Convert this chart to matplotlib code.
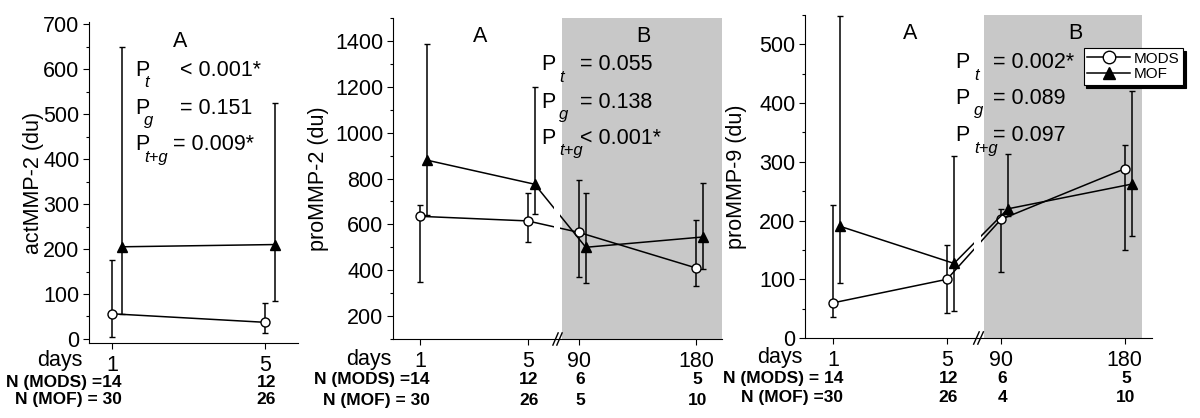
import numpy as np
import matplotlib
matplotlib.use("Agg")
import matplotlib.pyplot as plt
from matplotlib.transforms import offset_copy
from matplotlib.patches import Rectangle
from matplotlib.lines import Line2D
from matplotlib.ticker import MultipleLocator

plt.rcParams["font.family"] = ["Liberation Sans", "DejaVu Sans"]

# === data ===
days_short = [1, 5]
days_long = [1, 5, 90, 180]

# actMMP-2
act2_mods = [56, 37]
act2_mods_lo = [5, 13]
act2_mods_hi = [175, 79]
act2_mof = [205, 210]
act2_mof_lo = [56, 84]
act2_mof_hi = [650, 525]
act2_n_mods = [14, 12]
act2_n_mof = [30, 26]
act2_p = ["< 0.001*", "= 0.151", "= 0.009*"]

# proMMP-2
pro2_mods = [635, 615, 565, 410]
pro2_mods_lo = [350, 525, 370, 330]
pro2_mods_hi = [685, 735, 795, 620]
pro2_mof = [880, 775, 500, 545]
pro2_mof_lo = [640, 645, 345, 405]
pro2_mof_hi = [1385, 1200, 735, 780]
pro2_n_mods = [14, 12, 6, 5]
pro2_n_mof = [30, 26, 5, 10]
pro2_p = ["= 0.055", "= 0.138", "< 0.001*"]

# proMMP-9
pro9_mods = [60, 100, 202, 288]
pro9_mods_lo = [35, 42, 113, 150]
pro9_mods_hi = [226, 158, 220, 328]
pro9_mof = [190, 127, 220, 262]
pro9_mof_lo = [93, 46, 208, 173]
pro9_mof_hi = [548, 310, 314, 420]
pro9_n_mods = [14, 12, 6, 5]
pro9_n_mof = [30, 26, 4, 10]
pro9_p = ["= 0.002*", "= 0.089", "= 0.097"]

GREY = "#c8c8c8"
FS = 15.5

# broken day axis: 1..5 linear, then jump to 90..180 compressed
K = 4.35 / 90


def fwd(d):
    d = np.asarray(d, dtype=float)
    return np.where(d <= 5, d,
                    np.where(d >= 90, 6.9 + (d - 90) * K, 5 + (d - 5) * 1.9 / 85))


def inv(t):
    t = np.asarray(t, dtype=float)
    return np.where(t <= 5, t,
                    np.where(t >= 6.9, 90 + (t - 6.9) / K, 5 + (t - 5) * 85 / 1.9))


fig = plt.figure(figsize=(12, 4.18), dpi=100)
ax1 = fig.add_axes([89 / 1200, 75 / 418, 209 / 1200, 321 / 418])
ax2 = fig.add_axes([393 / 1200, 79 / 418, 329 / 1200, 321 / 418])
ax3 = fig.add_axes([805 / 1200, 80 / 418, 347 / 1200, 323 / 418])


def series(ax, days, mean, lo, hi, marker, face, dx):
    trans = offset_copy(ax.transData, fig=fig, x=dx, y=0, units="dots")
    mean = np.array(mean)
    yerr = [mean - np.array(lo), np.array(hi) - mean]
    ax.errorbar(days, mean, yerr=yerr, fmt="-", color="k", marker=marker,
                mfc=face, mec="k", ms=6.5, mew=1, lw=1.1, elinewidth=1.1,
                capsize=2.5, capthick=1.1, transform=trans, clip_on=False)


def style(ax, ylim, major, minor, ylabel, pad):
    ax.spines["top"].set_visible(False)
    ax.spines["right"].set_visible(False)
    ax.set_ylim(*ylim)
    ax.yaxis.set_major_locator(MultipleLocator(major))
    ax.yaxis.set_minor_locator(MultipleLocator(minor))
    ax.tick_params(axis="both", which="major", labelsize=FS, length=4, width=0.8,
                   direction="out", pad=3)
    ax.tick_params(axis="x", which="major", pad=4.5)
    ax.tick_params(axis="y", which="minor", length=2, width=0.8)
    ax.set_ylabel(ylabel, fontsize=FS, labelpad=pad)
    ax.patch.set_alpha(0)


def pvals(ax, xp, xsub, xvals, ys, vals):
    for y, s, v, xv in zip(ys, ["t", "g", "t+g"], vals, xvals):
        ax.text(xp, y, "P", transform=ax.transAxes, fontsize=FS, va="center", zorder=4)
        ax.text(xsub, y - 0.040, s, transform=ax.transAxes, fontsize=12,
                style="italic", va="center", zorder=4)
        ax.text(xv, y, v, transform=ax.transAxes, fontsize=FS, va="center", zorder=4)


def bottom(ax, days, n_mods, n_mof, lab_mods, lab_mof, rows, days_dx, days_dy):
    ax.annotate("days", xy=(0, 0), xycoords="axes fraction", xytext=(days_dx, -days_dy),
                textcoords="offset points", ha="right", va="baseline", fontsize=FS)
    for n, lab, r in [(n_mods, lab_mods, rows[0]), (n_mof, lab_mof, rows[1])]:
        ax.annotate(lab + str(n[0]), xy=(days[0], 0), xycoords=("data", "axes fraction"),
                    xytext=(7, -r), textcoords="offset points", ha="right", va="center",
                    fontsize=12.5, fontweight="bold", annotation_clip=False)
        for d, v in zip(days[1:], n[1:]):
            ax.annotate(str(v), xy=(d, 0), xycoords=("data", "axes fraction"),
                        xytext=(1, -r), textcoords="offset points", ha="center",
                        va="center", fontsize=12.5, fontweight="bold",
                        annotation_clip=False)


def broken(ax, grey_end):
    ax.set_xscale("function", functions=(fwd, inv))
    ax.set_xlim(0, 200)
    ax.set_xticks(days_long)
    ax.set_xticklabels([str(d) for d in days_long])
    ax.add_patch(Rectangle((0.515, 0), grey_end - 0.515, 1, transform=ax.transAxes,
                           fc=GREY, ec="none", zorder=0.5))
    # white gap in the lines at the break
    ax.add_patch(Rectangle((0.488, 0.003), 0.019, 0.997, transform=ax.transAxes,
                           fc="white", ec="none", zorder=2.3))
    for x0 in (0.486, 0.498):
        ax.add_line(Line2D([x0, x0 + 0.016], [-0.019, 0.019], transform=ax.transAxes,
                           color="k", lw=1, clip_on=False, zorder=3))


# === panel 1: actMMP-2 ===
ax1.set_xlim(0.4, 5.86)
ax1.set_xticks(days_short)
series(ax1, days_short, act2_mods, act2_mods_lo, act2_mods_hi, "o", "white", 0)
series(ax1, days_short, act2_mof, act2_mof_lo, act2_mof_hi, "^", "k", 10)
style(ax1, (-9, 705), 100, 50, "actMMP-2 (du)", -1)
ax1.text(0.435, 0.938, "A", transform=ax1.transAxes, fontsize=FS, ha="center", va="center")
pvals(ax1, 0.22, 0.262, [0.435, 0.435, 0.402], [0.850, 0.732, 0.617], act2_p)
bottom(ax1, days_short, act2_n_mods, act2_n_mof, "N (MODS) =", "N (MOF) = ",
       (28.5, 40.5), -5, 16.6)

# === panel 2: proMMP-2 ===
broken(ax2, 1.0)
series(ax2, days_long, pro2_mods, pro2_mods_lo, pro2_mods_hi, "o", "white", 0)
series(ax2, days_long, pro2_mof, pro2_mof_lo, pro2_mof_hi, "^", "k", 7)
style(ax2, (100, 1500), 200, 100, "proMMP-2 (du)", 4)
ax2.text(0.264, 0.941, "A", transform=ax2.transAxes, fontsize=FS, ha="center", va="center")
ax2.text(0.760, 0.941, "B", transform=ax2.transAxes, fontsize=FS, ha="center", va="center")
pvals(ax2, 0.450, 0.505, [0.568] * 3, [0.854, 0.738, 0.626], pro2_p)
bottom(ax2, days_long, pro2_n_mods, pro2_n_mof, "N (MODS) =", "N (MOF) = ",
       (29.5, 44), -1, 18.5)

# === panel 3: proMMP-9 ===
broken(ax3, 0.971)
series(ax3, days_long, pro9_mods, pro9_mods_lo, pro9_mods_hi, "o", "white", 0)
series(ax3, days_long, pro9_mof, pro9_mof_lo, pro9_mof_hi, "^", "k", 7)
style(ax3, (0, 550), 100, 50, "proMMP-9 (du)", 9)
ax3.text(0.303, 0.944, "A", transform=ax3.transAxes, fontsize=FS, ha="center", va="center")
ax3.text(0.778, 0.944, "B", transform=ax3.transAxes, fontsize=FS, ha="center", va="center")
pvals(ax3, 0.432, 0.487, [0.542] * 3, [0.854, 0.743, 0.628], pro9_p)
bottom(ax3, days_long, pro9_n_mods, pro9_n_mof, "N (MODS) = ", "N (MOF) =",
       (29, 43), -2, 18)

handles = [
    Line2D([], [], color="k", lw=1.1, marker="o", mfc="white", mec="k", ms=9),
    Line2D([], [], color="k", lw=1.1, marker="^", mfc="k", mec="k", ms=9),
]
leg = ax3.legend(handles, ["MODS", "MOF"], loc="upper right", bbox_to_anchor=(1.089, 0.898),
                 fontsize=11, frameon=True, fancybox=False, edgecolor="k", framealpha=1,
                 shadow={"color": "k", "alpha": 1}, handlelength=2.8, handletextpad=0.2,
                 labelspacing=0.1, borderpad=0.25, borderaxespad=0)
leg.get_frame().set_linewidth(0.8)
leg.set_zorder(5)

plt.savefig("out.png", dpi=100)
